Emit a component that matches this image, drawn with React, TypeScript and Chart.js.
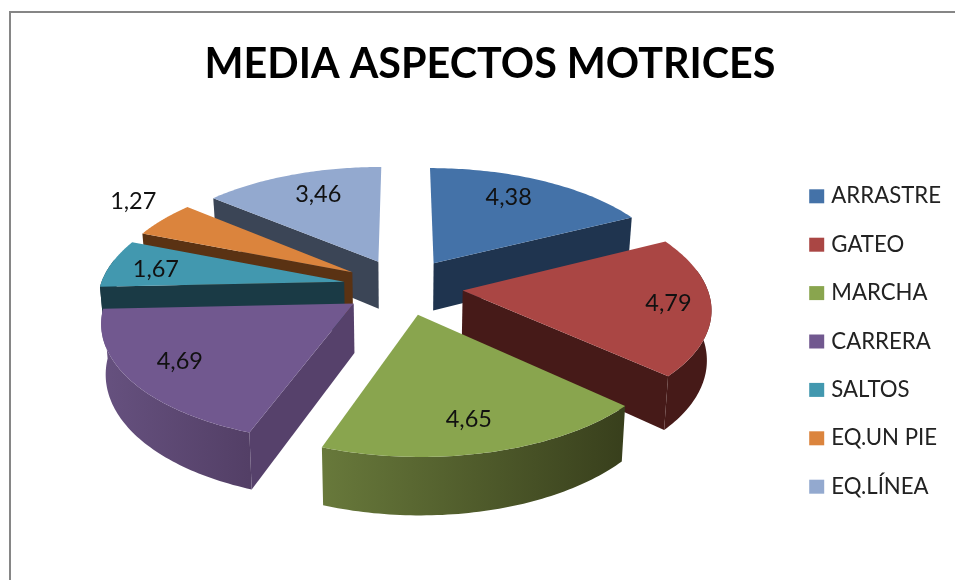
import React, { useEffect, useRef } from "react";
import { Chart, registerables } from "chart.js";

Chart.register(...registerables);

const TITLE = "MEDIA ASPECTOS MOTRICES";
const categories = ["ARRASTRE", "GATEO", "MARCHA", "CARRERA", "SALTOS", "EQ.UN PIE", "EQ.LÍNEA"];
const values = [4.38, 4.79, 4.65, 4.69, 1.67, 1.27, 3.46];

const topColors = ["#4472A8", "#AA4644", "#89A54E", "#71588F", "#4298AF", "#DB843D", "#93A9CF"];
const wallColors = ["#1F344F", "#461A18", "#383F1C", "#56416B", "#1A3A45", "#5A3213", "#3B4556"];
const rimStart = ["#1F344F", "#461A18", "#383F1C", "#533F66", "#1A3A45", "#5A3213", "#3B4556"];
const rimEnd = ["#1F344F", "#461A18", "#68793B", "#66517F", "#1A3A45", "#5A3213", "#3B4556"];
const labelRadius = [0.755, 0.83, 0.785, 0.785, 0.8, 1.24, 0.743];
const labelShiftDeg = [-3.5, 0, 1.1, 1.2, -1.4, 3.8, 2.3];

const CX = 403, CY = 286.5, RADIUS = 244, EXPLODE = 60;
const PERSP = 0.000563, TILT = 0.468, DEPTH = 48.5, TAPER = 0.015;

type P = [number, number];
const project = (X: number, Y: number, z: number): P => {
  const s = 1 / (1 - PERSP * Y);
  return [CX + X * s * (1 - TAPER * z), CY + TILT * Y * s + DEPTH * s * z];
};
const fillPoly = (ctx: CanvasRenderingContext2D, pts: P[], color: any) => {
  ctx.beginPath();
  pts.forEach((p, i) => (i ? ctx.lineTo(p[0], p[1]) : ctx.moveTo(p[0], p[1])));
  ctx.closePath();
  ctx.fillStyle = color;
  ctx.fill();
};

const frameAndPie = {
  id: "frameAndPie",
  beforeDraw(chart: any) {
    const { ctx, width, height } = chart;
    ctx.save();
    ctx.fillStyle = "#ffffff";
    ctx.fillRect(0, 0, width, height);
    ctx.strokeStyle = "#868686";
    ctx.lineWidth = 2;
    ctx.strokeRect(10, 12, width + 20, height + 20);
    ctx.restore();
  },
  beforeDatasetsDraw(chart: any) {
    const ctx: CanvasRenderingContext2D = chart.ctx;
    const arcs = chart.getDatasetMeta(0).data;
    const slices = arcs.map((el: any, i: number) => {
      const mid = (el.startAngle + el.endAngle) / 2;
      return { i, a0: el.startAngle, a1: el.endAngle, mid, ax: EXPLODE * Math.cos(mid), ay: EXPLODE * Math.sin(mid) };
    });
    slices.sort((p: any, q: any) => p.ay - q.ay);
    ctx.save();
    for (const s of slices) {
      const rim = (a: number): [number, number] => [s.ax + RADIUS * Math.cos(a), s.ay + RADIUS * Math.sin(a)];
      const N = 64;
      const upper: P[] = [];
      const visibleUpper: P[] = [];
      const visibleLower: P[] = [];
      for (let k = 0; k <= N; k++) {
        const a = s.a0 + ((s.a1 - s.a0) * k) / N;
        const [x, y] = rim(a);
        upper.push(project(x, y, 0));
        if (Math.sin(a) > -0.2) {
          visibleUpper.push(project(x, y, 0));
          visibleLower.push(project(x, y, 1));
        }
      }
      if (visibleUpper.length > 1) {
        const grad = ctx.createLinearGradient(upper[0][0], 0, upper[N][0] + 0.01, 0);
        grad.addColorStop(0, rimStart[s.i]);
        grad.addColorStop(1, rimEnd[s.i]);
        fillPoly(ctx, [...visibleUpper, ...visibleLower.reverse()], grad);
      }
      const wall = (a: number) => {
        const [x, y] = rim(a);
        fillPoly(
          ctx,
          [project(s.ax, s.ay, 0), project(x, y, 0), project(x, y, 1), project(s.ax, s.ay, 1)],
          wallColors[s.i],
        );
      };
      if (Math.sin(s.a0 - Math.PI / 2) > 0) wall(s.a0);
      if (Math.sin(s.a1 + Math.PI / 2) > 0) wall(s.a1);
      fillPoly(ctx, [project(s.ax, s.ay, 0), ...upper], topColors[s.i]);
    }
    ctx.font = "23.5px Lato";
    ctx.fillStyle = "#111111";
    ctx.textAlign = "center";
    ctx.textBaseline = "middle";
    for (const s of slices) {
      const a = s.mid + (labelShiftDeg[s.i] * Math.PI) / 180;
      const r = RADIUS * labelRadius[s.i];
      const [x, y] = project(s.ax + r * Math.cos(a), s.ay + r * Math.sin(a), 0);
      ctx.fillText(String(values[s.i]).replace(".", ","), x, y);
    }
    ctx.restore();
    return false;
  },
};

export default function App() {
  const ref = useRef<HTMLCanvasElement>(null);
  useEffect(() => {
    const baseLabels = (Chart as any).overrides.doughnut.plugins.legend.labels.generateLabels;
    const chart = new Chart(ref.current as HTMLCanvasElement, {
      type: "pie",
      data: {
        labels: categories,
        datasets: [{ data: values, backgroundColor: topColors, borderWidth: 0, offset: EXPLODE }],
      },
      options: {
        responsive: false,
        animation: false,
        layout: { padding: { left: 29, right: 4, bottom: 56 } },
        plugins: {
          title: {
            display: true,
            text: TITLE,
            color: "#000000",
            font: { family: "Lato", size: 41.3, weight: "bold" },
            padding: { top: 40, bottom: 20 },
          },
          legend: {
            position: "right",
            align: "end",
            labels: {
              color: "#222222",
              boxWidth: 7,
              boxHeight: 6,
              padding: 26.2,
              font: { family: "Lato", size: 22.2 },
              generateLabels: (c: any) =>
                baseLabels(c).map((item: any) => ({ ...item, strokeStyle: item.fillStyle, lineWidth: 8 })),
            },
          },
          tooltip: { enabled: false },
        },
      },
      plugins: [frameAndPie],
    } as any);
    return () => chart.destroy();
  }, []);
  return (
    <canvas
      ref={ref}
      width={955}
      height={580}
      style={{ position: "absolute", left: 0, top: 0, width: 955, height: 580, display: "block", filter: "blur(0.4px)" }}
    />
  );
}
